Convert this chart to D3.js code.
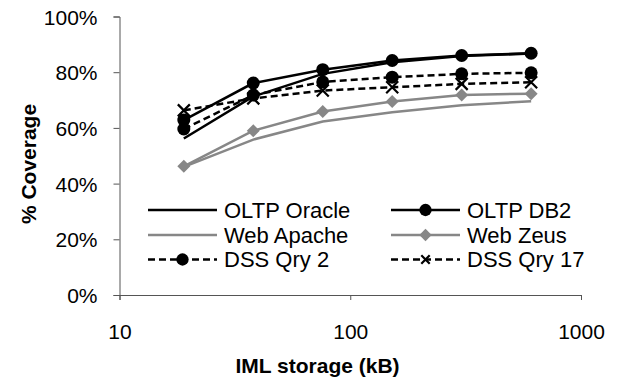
<!DOCTYPE html>
<html>
<head>
<meta charset="utf-8">
<script src="https://cdn.jsdelivr.net/npm/d3@7/dist/d3.min.js"></script>
<style>
  html, body { margin: 0; padding: 0; background: #fff; }
  svg { display: block; font-family: "Liberation Sans", Arial, sans-serif; }
</style>
</head>
<body>
<svg id="chart" width="617" height="382"></svg>
<script>
// IML storage sizes (kB) on a log axis
const storageKB = [19, 38, 76, 152, 304, 608];

// Coverage (%) per workload
const oltpOracle = [56.2, 71.3, 79.4, 83.6, 85.8, 86.7];
const oltpDB2    = [62.8, 76.1, 80.9, 84.2, 86.0, 86.8];
const webApache  = [46.0, 55.8, 62.3, 65.6, 68.1, 69.6];
const webZeus    = [46.2, 59.0, 65.9, 69.5, 71.8, 72.3];
const dssQry2    = [59.6, 71.8, 76.5, 78.2, 79.4, 79.8];
const dssQry17   = [66.3, 70.6, 73.4, 74.6, 75.8, 76.4];

const seriesNames = ["OLTP Oracle", "OLTP DB2", "Web Apache", "Web Zeus", "DSS Qry 2", "DSS Qry 17"];
const yTicks = [0, 20, 40, 60, 80, 100];
const xTicks = [10, 100, 1000];

const styles = {
  "OLTP Oracle": { color: "#000", dash: null, marker: null },
  "OLTP DB2":    { color: "#000", dash: null, marker: "circle" },
  "Web Apache":  { color: "#878787", dash: null, marker: null },
  "Web Zeus":    { color: "#878787", dash: null, marker: "diamond" },
  "DSS Qry 2":   { color: "#000", dash: "7,4", marker: "circle" },
  "DSS Qry 17":  { color: "#000", dash: "7,4", marker: "cross" }
};
const seriesValues = [oltpOracle, oltpDB2, webApache, webZeus, dssQry2, dssQry17];

const svg = d3.select("#chart");
const plot = { left: 119.5, right: 581, top: 16.5, bottom: 295 };

const x = d3.scaleLog().domain([10, 1000]).range([plot.left, plot.right]);
const y = d3.scaleLinear().domain([0, 100]).range([plot.bottom, plot.top]);

// Axes
const axisColor = "#555";
const yAxis = svg.append("g")
  .attr("transform", `translate(${plot.left},0)`)
  .call(d3.axisLeft(y).tickValues(yTicks).tickSize(6).tickPadding(16).tickFormat(d => d + "%"));
const xAxis = svg.append("g")
  .attr("transform", `translate(0,${plot.bottom})`)
  .call(d3.axisBottom(x).tickValues(xTicks).tickSize(5).tickPadding(24).tickFormat(d3.format("d")));

[yAxis, xAxis].forEach(g => {
  g.select(".domain").attr("stroke", axisColor).attr("stroke-width", 1);
  g.selectAll(".tick line").attr("stroke", axisColor).attr("stroke-width", 1);
  g.selectAll(".tick text").attr("fill", "#000").attr("font-size", 21)
    .attr("font-family", "Liberation Sans, Arial, sans-serif");
});
yAxis.selectAll(".tick text").attr("dy", "0.36em");

// Axis titles
svg.append("text")
  .attr("x", 317.5).attr("y", 373)
  .attr("text-anchor", "middle")
  .attr("font-size", 21).attr("font-weight", "bold")
  .text("IML storage (kB)");
svg.append("text")
  .attr("transform", "translate(36,164) rotate(-90)")
  .attr("text-anchor", "middle")
  .attr("font-size", 21).attr("font-weight", "bold")
  .text("% Coverage");

// Marker drawing shared by plot and legend
function drawMarker(g, type, cx, cy, color, scale) {
  const s = scale || 1;
  if (type === "circle") {
    g.append("circle").attr("cx", cx).attr("cy", cy).attr("r", 6.5 * s).attr("fill", color);
  } else if (type === "diamond") {
    const r = 6.5 * s;
    g.append("path")
      .attr("d", `M${cx},${cy - r}L${cx + r},${cy}L${cx},${cy + r}L${cx - r},${cy}Z`)
      .attr("fill", color);
  } else if (type === "cross") {
    const r = 6 * s;
    g.append("path")
      .attr("d", `M${cx - r},${cy - r}L${cx + r},${cy + r}M${cx - r},${cy + r}L${cx + r},${cy - r}`)
      .attr("stroke", color).attr("stroke-width", 2.2).attr("fill", "none");
  }
}

const line = d3.line().x(d => x(d[0])).y(d => y(d[1]));

// Draw series in order, lighter ones first so black lines sit on top
const drawOrder = [2, 3, 0, 1, 4, 5];
drawOrder.forEach(i => {
  const name = seriesNames[i];
  const st = styles[name];
  const pts = storageKB.map((k, j) => [k, seriesValues[i][j]]);
  const g = svg.append("g");
  g.append("path")
    .datum(pts)
    .attr("d", line)
    .attr("fill", "none")
    .attr("stroke", st.color)
    .attr("stroke-width", 2.5)
    .attr("stroke-dasharray", st.dash);
  if (st.marker) {
    pts.forEach(p => drawMarker(g, st.marker, x(p[0]), y(p[1]), st.color));
  }
});

// Legend: two columns, three rows
const legendCols = [148, 391];
const legendRows = [210, 235, 259.5];
const lineLen = 69;
seriesNames.forEach((name, i) => {
  const st = styles[name];
  const lx = legendCols[i % 2];
  const ly = legendRows[Math.floor(i / 2)];
  const g = svg.append("g");
  g.append("line")
    .attr("x1", lx).attr("x2", lx + lineLen)
    .attr("y1", ly).attr("y2", ly)
    .attr("stroke", st.color).attr("stroke-width", 2.5)
    .attr("stroke-dasharray", st.dash);
  if (st.marker) drawMarker(g, st.marker, lx + lineLen / 2, ly, st.color, st.marker === "cross" ? 0.7 : 0.95);
  g.append("text")
    .attr("x", lx + lineLen + 7).attr("y", ly)
    .attr("dy", "0.36em")
    .attr("font-size", 22)
    .text(name);
});
</script>
</body>
</html>
